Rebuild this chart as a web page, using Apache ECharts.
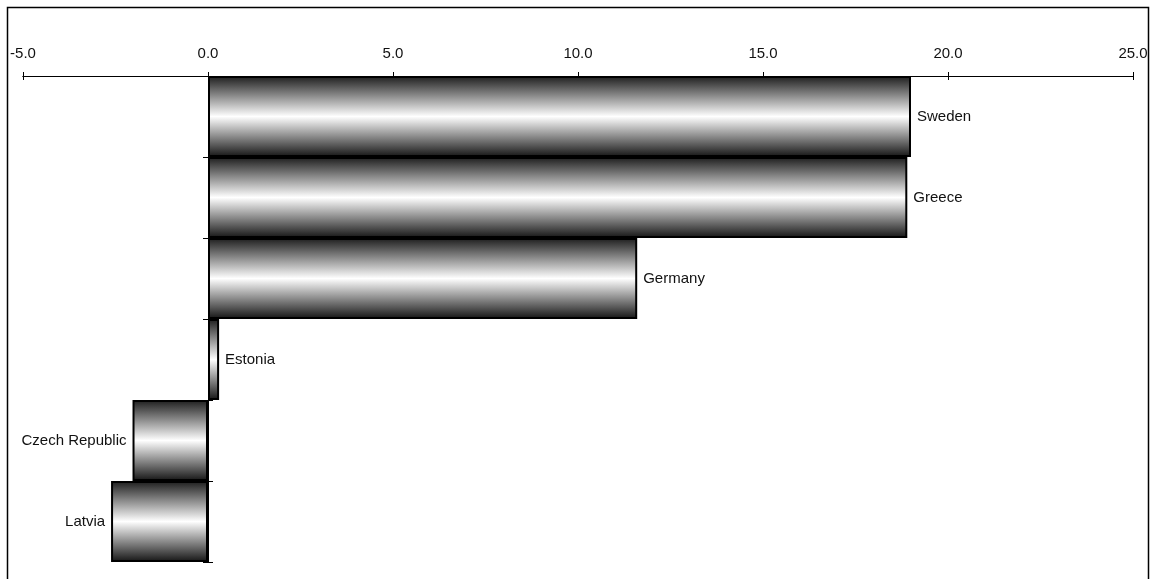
<!DOCTYPE html>
<html>
<head>
<meta charset="utf-8">
<script src="https://cdn.jsdelivr.net/npm/echarts@6/dist/echarts.min.js"></script>
<style>
  html, body { margin: 0; padding: 0; background: #fff; }
  #chart { width: 1153px; height: 579px; }
</style>
</head>
<body>
<div id="chart"></div>
<script>
// Countries, top to bottom
const countries = ['Sweden', 'Greece', 'Germany', 'Estonia', 'Czech Republic', 'Latvia'];
// Change per country
const values = [19.0, 18.9, 11.6, 0.3, -2.04, -2.62];
// Value axis range and step
const axisMin = -5;
const axisMax = 25;
const axisStep = 5;

const chart = echarts.init(document.getElementById('chart'));

const barFill = new echarts.graphic.LinearGradient(0, 0, 0, 1, [
  { offset: 0, color: '#1c1c1c' },
  { offset: 0.5, color: '#ffffff' },
  { offset: 1, color: '#141414' }
]);

const font = { fontFamily: 'Liberation Sans, Arial, sans-serif', fontSize: 15, color: '#111' };

const data = values.map(v => ({
  value: v,
  label: { position: v >= 0 ? 'right' : 'left' }
}));

const valueAxisBase = {
  type: 'value',
  position: 'top',
  min: axisMin,
  max: axisMax,
  interval: axisStep,
  splitLine: { show: false },
  axisLine: { show: true, lineStyle: { color: '#000', width: 1 } }
};

const catAxisBase = {
  type: 'category',
  data: countries,
  inverse: true,
  position: 'left',
  axisLabel: { show: false },
  axisLine: { show: true, onZero: true, lineStyle: { color: '#000', width: 1 } }
};

chart.setOption({
  animation: false,
  backgroundColor: '#fff',
  grid: { left: 23, right: 20, top: 76, bottom: 17, containLabel: false },
  xAxis: [
    Object.assign({}, valueAxisBase, {
      axisTick: { show: true, length: 4, lineStyle: { color: '#000' } },
      axisLabel: Object.assign({}, font, { margin: 15, formatter: v => v.toFixed(1) })
    }),
    Object.assign({}, valueAxisBase, {
      axisTick: { show: true, inside: true, length: 4, lineStyle: { color: '#000' } },
      axisLabel: { show: false }
    })
  ],
  yAxis: [
    Object.assign({}, catAxisBase, {
      axisTick: { show: true, length: 5, lineStyle: { color: '#000' } }
    }),
    Object.assign({}, catAxisBase, {
      axisTick: { show: true, inside: true, length: 5, lineStyle: { color: '#000' } }
    })
  ],
  graphic: [{
    type: 'rect',
    shape: { x: 7.5, y: 7.5, width: 1141, height: 620 },
    style: { fill: 'none', stroke: '#000', lineWidth: 1.5 },
    silent: true,
    z: 100
  }],
  series: [{
    type: 'bar',
    xAxisIndex: 0,
    yAxisIndex: 0,
    data: data,
    barWidth: '100%',
    barCategoryGap: 0,
    itemStyle: { color: barFill, borderColor: '#000', borderWidth: 2 },
    label: Object.assign({ show: true, distance: 6, formatter: '{b}' }, font)
  }]
});
</script>
</body>
</html>
